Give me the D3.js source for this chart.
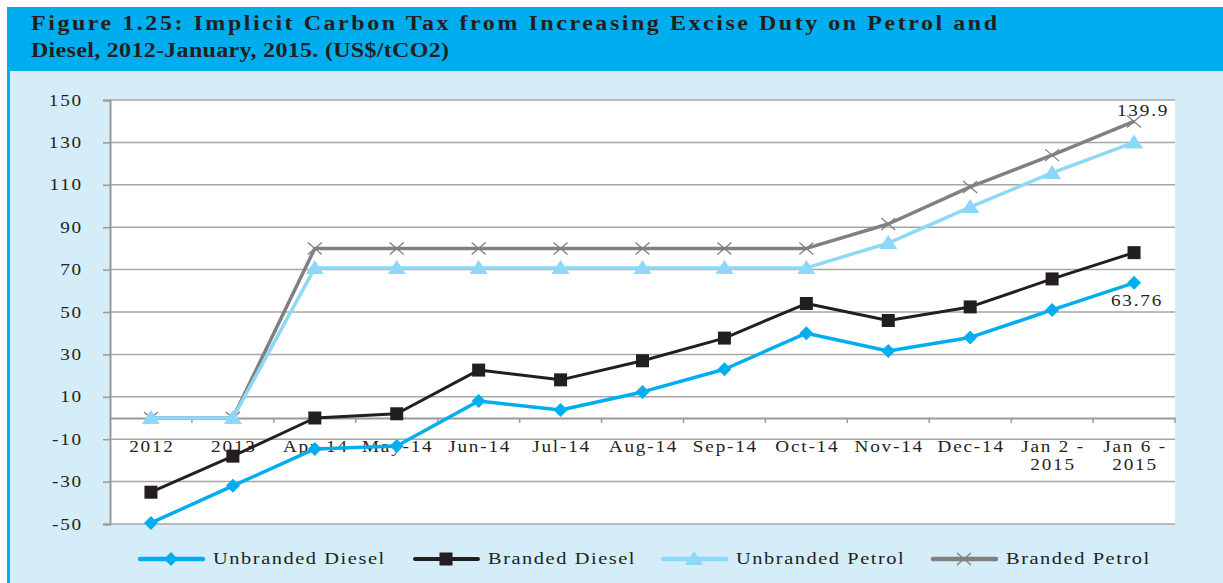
<!DOCTYPE html>
<html lang="en">
<head>
  <meta charset="UTF-8">
  <title>Implicit Carbon Tax</title>
  <script src="https://d3js.org/d3.v7.min.js"></script>
  <style>
    body { margin: 0; background: #fff; }
    svg text { font-family: "Liberation Serif", "Times New Roman", serif; fill: #231f20; }
    .title { font-weight: bold; font-size: 20px; }
    .tick-label { font-size: 16px; letter-spacing: 1.5px; }
    .legend-label { font-size: 17px; letter-spacing: 1.3px; }
  </style>
</head>
<body>
<div id="chart"></div>
<script>
  // data
  const categories = ["2012", "2013", "Apr-14", "May-14", "Jun-14", "Jul-14", "Aug-14",
                      "Sep-14", "Oct-14", "Nov-14", "Dec-14", "Jan 2 -\n2015", "Jan 6 -\n2015"];
  const unbrandedDiesel = [-49.5, -32, -14.6, -13.2, 8, 3.8, 12.3, 23, 40, 31.6, 38, 51, 63.76];
  const brandedDiesel   = [-35, -18, 0, 2, 22.6, 18, 27, 37.7, 54, 46, 52.4, 65.6, 78];
  const unbrandedPetrol = [0, 0, 70.8, 70.8, 70.8, 70.8, 70.8, 70.8, 70.8, 82.5, 99.5, 115.6, 130];
  const brandedPetrol   = [0, 0, 80, 80, 80, 80, 80, 80, 80, 91.5, 109, 124, 139.9];
  const yTicks = [-50, -30, -10, 10, 30, 50, 70, 90, 110, 130, 150];

  const series = [
    { name: "Unbranded Diesel", values: unbrandedDiesel, color: "#00aeef", width: 3.5, marker: "diamond" },
    { name: "Branded Diesel",   values: brandedDiesel,   color: "#231f20", width: 3,   marker: "square" },
    { name: "Unbranded Petrol", values: unbrandedPetrol, color: "#8dd8f8", width: 3.5, marker: "triangle" },
    { name: "Branded Petrol",   values: brandedPetrol,   color: "#808080", width: 3.5, marker: "cross" }
  ];

  const W = 1223, H = 583;
  const plot = { left: 110, right: 1175, top: 100, bottom: 524 };
  const SX = 1.2; // the original type is set wide, stretch it horizontally

  const svg = d3.select("#chart").append("svg")
    .attr("width", W).attr("height", H);

  // text stretched horizontally around its anchor point
  function stext(parent, px, py, cls, str, anchor) {
    return parent.append("g").attr("transform", `translate(${px},${py})`)
      .append("text").attr("class", cls).attr("text-anchor", anchor || "start")
      .attr("transform", `scale(${SX},1)`).text(str);
  }

  // background panels
  svg.append("rect").attr("x", 7).attr("y", 71).attr("width", W - 7).attr("height", H - 71)
    .attr("fill", "#d5edf9");
  svg.append("rect").attr("x", 7).attr("y", 71).attr("width", 3).attr("height", H - 71)
    .attr("fill", "#00aeef");
  svg.append("rect").attr("x", 7).attr("y", 7).attr("width", W - 7).attr("height", 64)
    .attr("fill", "#00aeef");

  stext(svg, 31, 30, "title", "Figure 1.25:  Implicit Carbon Tax from Increasing Excise Duty on Petrol and")
    .attr("textLength", 966 / SX).attr("lengthAdjust", "spacing");
  stext(svg, 31, 57, "title", "Diesel, 2012-January, 2015. (US$/tCO2)")
    .attr("textLength", 418 / SX).attr("lengthAdjust", "spacing");

  svg.append("rect").attr("x", plot.left).attr("y", plot.top)
    .attr("width", plot.right - plot.left).attr("height", plot.bottom - plot.top)
    .attr("fill", "#fff");

  // scales
  const x = d3.scaleBand().domain(categories).range([plot.left, plot.right]).padding(0);
  const cx = d => x(d) + x.bandwidth() / 2;
  const y = d3.scaleLinear().domain([-50, 150]).range([plot.bottom, plot.top]);

  // gridlines
  svg.append("g").selectAll("line").data(yTicks).join("line")
    .attr("x1", plot.left).attr("x2", plot.right)
    .attr("y1", d => y(d)).attr("y2", d => y(d))
    .attr("stroke", "#a6a6a6").attr("stroke-width", 1.5);

  // y axis
  const yAxis = svg.append("g")
    .attr("transform", `translate(${plot.left},0)`)
    .call(d3.axisLeft(y).tickValues(yTicks).tickSize(7).tickPadding(20)
      .tickFormat(d => d < 0 ? "-" + Math.abs(d) : d));
  yAxis.select(".domain").attr("stroke", "#9a9a9a").attr("stroke-width", 2);
  yAxis.selectAll(".tick line").attr("stroke", "#9a9a9a").attr("stroke-width", 1.5);
  yAxis.selectAll(".tick text").attr("class", "tick-label")
    .attr("x", -27 / SX).attr("transform", `scale(${SX},1)`);

  // category axis at zero
  const xAxis = svg.append("g")
    .attr("transform", `translate(0,${y(0)})`)
    .call(d3.axisBottom(x).tickSize(0).tickFormat(""));
  xAxis.select(".domain").attr("stroke", "#9a9a9a").attr("stroke-width", 2);
  svg.append("g").selectAll("line").data(categories).join("line")
    .attr("x1", d => x(d) + x.bandwidth())
    .attr("x2", d => x(d) + x.bandwidth())
    .attr("y1", y(0)).attr("y2", y(0) + 5)
    .attr("stroke", "#9a9a9a").attr("stroke-width", 1.5);

  const xLabels = svg.append("g");
  categories.forEach(c => {
    const t = stext(xLabels, cx(c) + 1, y(0) + 34, "tick-label", null, "middle");
    t.selectAll("tspan").data(c.split("\n")).join("tspan")
      .attr("x", 0).attr("dy", (s, i) => i === 0 ? 0 : 18).text(s => s);
  });

  // markers
  function drawMarker(g, type, px, py, color) {
    if (type === "diamond") {
      g.append("path").attr("d", `M${px},${py - 7}L${px + 7},${py}L${px},${py + 7}L${px - 7},${py}Z`)
        .attr("fill", color);
    } else if (type === "square") {
      g.append("rect").attr("x", px - 6.5).attr("y", py - 6.5).attr("width", 13).attr("height", 13)
        .attr("fill", color);
    } else if (type === "triangle") {
      g.append("path").attr("d", `M${px},${py - 8}L${px + 9},${py + 6}L${px - 9},${py + 6}Z`)
        .attr("fill", color);
    } else {
      g.append("path").attr("d", `M${px - 7},${py - 6}L${px + 7},${py + 6}M${px - 7},${py + 6}L${px + 7},${py - 6}`)
        .attr("stroke", color).attr("stroke-width", 1.3).attr("fill", "none");
    }
  }

  const line = d3.line().x((d, i) => cx(categories[i])).y(d => y(d));

  // petrol lines behind diesel
  [series[3], series[2], series[1], series[0]].forEach(s => {
    const g = svg.append("g");
    g.append("path").datum(s.values).attr("d", line)
      .attr("fill", "none").attr("stroke", s.color).attr("stroke-width", s.width)
      .attr("stroke-linejoin", "round");
    s.values.forEach((v, i) => drawMarker(g, s.marker, cx(categories[i]), y(v), s.color));
  });

  // data labels
  const last = categories[categories.length - 1];
  stext(svg, cx(last) + 9, y(brandedPetrol[12]) - 5, "tick-label", "139.9", "middle");
  stext(svg, cx(last) + 3, y(unbrandedDiesel[12]) + 23, "tick-label", "63.76", "middle");

  // legend
  const legendX = [140, 415, 663, 933];
  series.forEach((s, i) => {
    const g = svg.append("g");
    const x0 = legendX[i], ly = 559;
    g.append("line").attr("x1", x0).attr("x2", x0 + 63).attr("y1", ly).attr("y2", ly)
      .attr("stroke", s.color).attr("stroke-width", s.width + 1).attr("stroke-linecap", "round");
    drawMarker(g, s.marker, x0 + 31, ly, s.color);
    stext(g, x0 + 73, ly + 5, "legend-label", s.name);
  });
</script>
</body>
</html>
